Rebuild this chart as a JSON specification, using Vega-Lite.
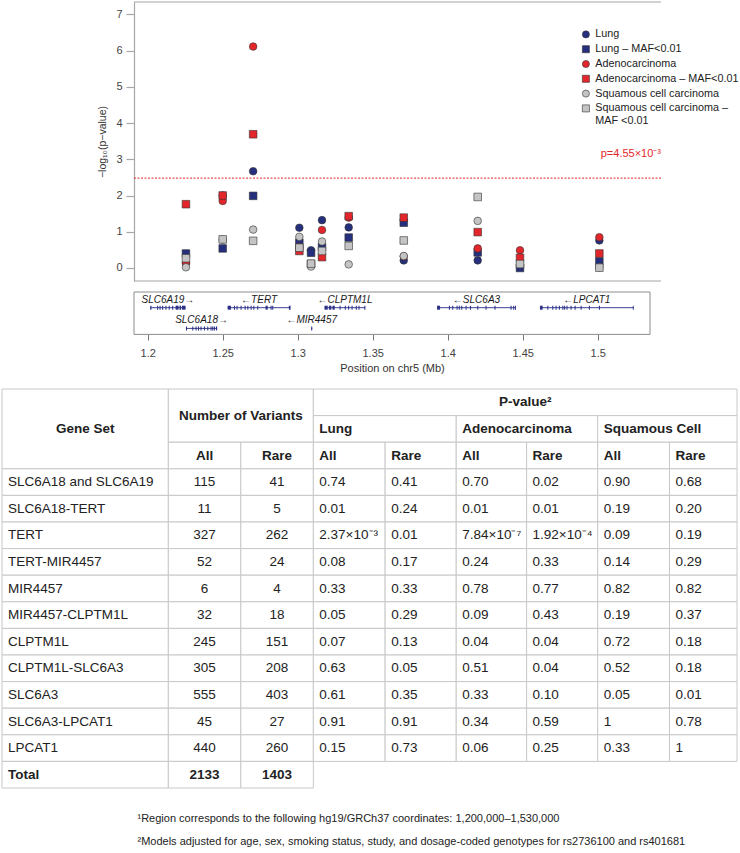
{
  "$schema": "https://vega.github.io/schema/vega-lite/v6.json",
  "padding": {"left": 1, "top": 1, "right": 0, "bottom": 0},
  "background": "white",
  "config": {
    "font": "Liberation Sans",
    "view": {"stroke": null},
    "axis": {"labelFont": "Liberation Sans", "titleFont": "Liberation Sans"},
    "legend": {"labelFont": "Liberation Sans"},
    "title": {"font": "Liberation Sans"},
    "text": {"font": "Liberation Sans"}
  },
  "datasets": {
    "pts": [
      {"set": "SLC6A18 and SLC6A19", "pos": 1.2255, "L": 0.13, "Lr": 0.40, "A": 0.15, "Ar": 1.76, "S": 0.02, "Sr": 0.27},
      {"set": "SLC6A18-TERT", "pos": 1.2500, "L": 2.00, "Lr": 0.54, "A": 1.85, "Ar": 2.00, "S": 0.78, "Sr": 0.79},
      {"set": "TERT", "pos": 1.2703, "L": 2.67, "Lr": 1.99, "A": 6.11, "Ar": 3.69, "S": 1.06, "Sr": 0.75},
      {"set": "TERT-MIR4457", "pos": 1.3011, "L": 1.11, "Lr": 0.70, "A": 0.58, "Ar": 0.47, "S": 0.86, "Sr": 0.56},
      {"set": "MIR4457", "pos": 1.3089, "L": 0.49, "Lr": 0.42, "A": 0.11, "Ar": 0.11, "S": 0.04, "Sr": 0.12},
      {"set": "MIR4457-CLPTM1L", "pos": 1.3162, "L": 1.32, "Lr": 0.58, "A": 1.05, "Ar": 0.30, "S": 0.73, "Sr": 0.47},
      {"set": "CLPTM1L", "pos": 1.3340, "L": 1.12, "Lr": 0.84, "A": 1.39, "Ar": 1.43, "S": 0.10, "Sr": 0.61},
      {"set": "CLPTM1L-SLC6A3", "pos": 1.3707, "L": 0.21, "Lr": 1.25, "A": 0.32, "Ar": 1.39, "S": 0.33, "Sr": 0.76},
      {"set": "SLC6A3", "pos": 1.4200, "L": 0.21, "Lr": 0.43, "A": 0.54, "Ar": 0.99, "S": 1.30, "Sr": 1.96},
      {"set": "SLC6A3-LPCAT1", "pos": 1.4482, "L": 0.04, "Lr": 0.00, "A": 0.49, "Ar": 0.28, "S": 0.10, "Sr": 0.11},
      {"set": "LPCAT1", "pos": 1.5011, "L": 0.76, "Lr": 0.18, "A": 0.85, "Ar": 0.40, "S": 0.02, "Sr": 0.01}
    ],
    "ser": [
      {"key": "L", "series": "Lung"},
      {"key": "Lr", "series": "Lung – MAF<0.01"},
      {"key": "A", "series": "Adenocarcinoma"},
      {"key": "Ar", "series": "Adenocarcinoma – MAF<0.01"},
      {"key": "S", "series": "Squamous cell carcinoma"},
      {"key": "Sr", "series": "Squamous cell carcinoma – MAF <0.01"}
    ],
    "genes": [
      {"gene": "SLC6A19", "label": "SLC6A19→", "start": 1.2017, "end": 1.2252, "lane": 1},
      {"gene": "SLC6A18", "label": "SLC6A18→", "start": 1.2255, "end": 1.2463, "lane": 2},
      {"gene": "TERT", "label": "←TERT", "start": 1.2533, "end": 1.2952, "lane": 1},
      {"gene": "MIR4457", "label": "←MIR4457", "start": 1.3090, "end": 1.3097, "lane": 2},
      {"gene": "CLPTM1L", "label": "←CLPTM1L", "start": 1.3179, "end": 1.3451, "lane": 1},
      {"gene": "SLC6A3", "label": "←SLC6A3", "start": 1.3929, "end": 1.4455, "lane": 1},
      {"gene": "LPCAT1", "label": "←LPCAT1", "start": 1.4615, "end": 1.5240, "lane": 1}
    ],
    "exons": [
      {"lane": 1, "start": 1.2017, "end": 1.2025}, {"lane": 1, "start": 1.2063, "end": 1.2070}, {"lane": 1, "start": 1.2079, "end": 1.2086},
      {"lane": 1, "start": 1.2096, "end": 1.2103}, {"lane": 1, "start": 1.2118, "end": 1.2125}, {"lane": 1, "start": 1.2140, "end": 1.2147},
      {"lane": 1, "start": 1.2163, "end": 1.2170}, {"lane": 1, "start": 1.2186, "end": 1.2206}, {"lane": 1, "start": 1.2212, "end": 1.2222},
      {"lane": 1, "start": 1.2228, "end": 1.2252},
      {"lane": 2, "start": 1.2255, "end": 1.2262}, {"lane": 2, "start": 1.2297, "end": 1.2304}, {"lane": 2, "start": 1.2319, "end": 1.2326},
      {"lane": 2, "start": 1.2335, "end": 1.2342}, {"lane": 2, "start": 1.2352, "end": 1.2359}, {"lane": 2, "start": 1.2375, "end": 1.2382},
      {"lane": 2, "start": 1.2397, "end": 1.2404}, {"lane": 2, "start": 1.2419, "end": 1.2426}, {"lane": 2, "start": 1.2430, "end": 1.2437},
      {"lane": 2, "start": 1.2441, "end": 1.2448}, {"lane": 2, "start": 1.2455, "end": 1.2463},
      {"lane": 1, "start": 1.2533, "end": 1.2555}, {"lane": 1, "start": 1.2575, "end": 1.2582}, {"lane": 1, "start": 1.2592, "end": 1.2599},
      {"lane": 1, "start": 1.2619, "end": 1.2626}, {"lane": 1, "start": 1.2646, "end": 1.2653}, {"lane": 1, "start": 1.2664, "end": 1.2671},
      {"lane": 1, "start": 1.2686, "end": 1.2693}, {"lane": 1, "start": 1.2704, "end": 1.2711}, {"lane": 1, "start": 1.2730, "end": 1.2737},
      {"lane": 1, "start": 1.2786, "end": 1.2800}, {"lane": 1, "start": 1.2819, "end": 1.2826}, {"lane": 1, "start": 1.2830, "end": 1.2837},
      {"lane": 1, "start": 1.2941, "end": 1.2952},
      {"lane": 2, "start": 1.3090, "end": 1.3097},
      {"lane": 1, "start": 1.3179, "end": 1.3200}, {"lane": 1, "start": 1.3208, "end": 1.3224}, {"lane": 1, "start": 1.3232, "end": 1.3247},
      {"lane": 1, "start": 1.3279, "end": 1.3286}, {"lane": 1, "start": 1.3314, "end": 1.3321}, {"lane": 1, "start": 1.3336, "end": 1.3343},
      {"lane": 1, "start": 1.3359, "end": 1.3366}, {"lane": 1, "start": 1.3387, "end": 1.3394}, {"lane": 1, "start": 1.3405, "end": 1.3412},
      {"lane": 1, "start": 1.3444, "end": 1.3451},
      {"lane": 1, "start": 1.3929, "end": 1.3949}, {"lane": 1, "start": 1.4008, "end": 1.4015}, {"lane": 1, "start": 1.4030, "end": 1.4037},
      {"lane": 1, "start": 1.4059, "end": 1.4066}, {"lane": 1, "start": 1.4074, "end": 1.4081}, {"lane": 1, "start": 1.4090, "end": 1.4097},
      {"lane": 1, "start": 1.4119, "end": 1.4126}, {"lane": 1, "start": 1.4148, "end": 1.4155}, {"lane": 1, "start": 1.4197, "end": 1.4204},
      {"lane": 1, "start": 1.4252, "end": 1.4259}, {"lane": 1, "start": 1.4312, "end": 1.4319}, {"lane": 1, "start": 1.4419, "end": 1.4426},
      {"lane": 1, "start": 1.4437, "end": 1.4444}, {"lane": 1, "start": 1.4449, "end": 1.4455},
      {"lane": 1, "start": 1.4615, "end": 1.4633}, {"lane": 1, "start": 1.4664, "end": 1.4671}, {"lane": 1, "start": 1.4697, "end": 1.4704},
      {"lane": 1, "start": 1.4719, "end": 1.4726}, {"lane": 1, "start": 1.4741, "end": 1.4748}, {"lane": 1, "start": 1.4764, "end": 1.4771},
      {"lane": 1, "start": 1.4776, "end": 1.4783}, {"lane": 1, "start": 1.4792, "end": 1.4799}, {"lane": 1, "start": 1.4819, "end": 1.4826},
      {"lane": 1, "start": 1.4846, "end": 1.4853}, {"lane": 1, "start": 1.4886, "end": 1.4893}, {"lane": 1, "start": 1.4941, "end": 1.4948},
      {"lane": 1, "start": 1.5008, "end": 1.5015}, {"lane": 1, "start": 1.5234, "end": 1.5240}
    ],
    "cols": [
      {"key": "set", "c0": 0, "c1": 2.34},
      {"key": "n_all", "c0": 2.34, "c1": 3.36},
      {"key": "n_rare", "c0": 3.36, "c1": 4.38},
      {"key": "l_all", "c0": 4.38, "c1": 5.39},
      {"key": "l_rare", "c0": 5.39, "c1": 6.39},
      {"key": "a_all", "c0": 6.39, "c1": 7.38},
      {"key": "a_rare", "c0": 7.38, "c1": 8.38},
      {"key": "s_all", "c0": 8.38, "c1": 9.39},
      {"key": "s_rare", "c0": 9.39, "c1": 10.34}
    ],
    "head": [
      {"text": "Gene Set", "c0": 0, "c1": 2.34, "r0": 0, "r1": 3},
      {"text": "Number of Variants", "c0": 2.34, "c1": 4.38, "r0": 0, "r1": 2},
      {"text": "All", "c0": 2.34, "c1": 3.36, "r0": 2, "r1": 3},
      {"text": "Rare", "c0": 3.36, "c1": 4.38, "r0": 2, "r1": 3},
      {"text": "P-value²", "c0": 4.38, "c1": 10.34, "r0": 0, "r1": 1},
      {"text": "Lung", "c0": 4.38, "c1": 6.39, "r0": 1, "r1": 2},
      {"text": "Adenocarcinoma", "c0": 6.39, "c1": 8.38, "r0": 1, "r1": 2},
      {"text": "Squamous Cell", "c0": 8.38, "c1": 10.34, "r0": 1, "r1": 2},
      {"text": "All", "c0": 4.38, "c1": 5.39, "r0": 2, "r1": 3},
      {"text": "Rare", "c0": 5.39, "c1": 6.39, "r0": 2, "r1": 3},
      {"text": "All", "c0": 6.39, "c1": 7.38, "r0": 2, "r1": 3},
      {"text": "Rare", "c0": 7.38, "c1": 8.38, "r0": 2, "r1": 3},
      {"text": "All", "c0": 8.38, "c1": 9.39, "r0": 2, "r1": 3},
      {"text": "Rare", "c0": 9.39, "c1": 10.34, "r0": 2, "r1": 3}
    ],
    "tbl": [
      {"set": "SLC6A18 and SLC6A19", "n_all": "115", "n_rare": "41", "l_all": "0.74", "l_rare": "0.41", "a_all": "0.70", "a_rare": "0.02", "s_all": "0.90", "s_rare": "0.68"},
      {"set": "SLC6A18-TERT", "n_all": "11", "n_rare": "5", "l_all": "0.01", "l_rare": "0.24", "a_all": "0.01", "a_rare": "0.01", "s_all": "0.19", "s_rare": "0.20"},
      {"set": "TERT", "n_all": "327", "n_rare": "262", "l_all": "2.37×10⁻³", "l_rare": "0.01", "a_all": "7.84×10⁻⁷", "a_rare": "1.92×10⁻⁴", "s_all": "0.09", "s_rare": "0.19"},
      {"set": "TERT-MIR4457", "n_all": "52", "n_rare": "24", "l_all": "0.08", "l_rare": "0.17", "a_all": "0.24", "a_rare": "0.33", "s_all": "0.14", "s_rare": "0.29"},
      {"set": "MIR4457", "n_all": "6", "n_rare": "4", "l_all": "0.33", "l_rare": "0.33", "a_all": "0.78", "a_rare": "0.77", "s_all": "0.82", "s_rare": "0.82"},
      {"set": "MIR4457-CLPTM1L", "n_all": "32", "n_rare": "18", "l_all": "0.05", "l_rare": "0.29", "a_all": "0.09", "a_rare": "0.43", "s_all": "0.19", "s_rare": "0.37"},
      {"set": "CLPTM1L", "n_all": "245", "n_rare": "151", "l_all": "0.07", "l_rare": "0.13", "a_all": "0.04", "a_rare": "0.04", "s_all": "0.72", "s_rare": "0.18"},
      {"set": "CLPTM1L-SLC6A3", "n_all": "305", "n_rare": "208", "l_all": "0.63", "l_rare": "0.05", "a_all": "0.51", "a_rare": "0.04", "s_all": "0.52", "s_rare": "0.18"},
      {"set": "SLC6A3", "n_all": "555", "n_rare": "403", "l_all": "0.61", "l_rare": "0.35", "a_all": "0.33", "a_rare": "0.10", "s_all": "0.05", "s_rare": "0.01"},
      {"set": "SLC6A3-LPCAT1", "n_all": "45", "n_rare": "27", "l_all": "0.91", "l_rare": "0.91", "a_all": "0.34", "a_rare": "0.59", "s_all": "1", "s_rare": "0.78"},
      {"set": "LPCAT1", "n_all": "440", "n_rare": "260", "l_all": "0.15", "l_rare": "0.73", "a_all": "0.06", "a_rare": "0.25", "s_all": "0.33", "s_rare": "1"},
      {"set": "Total", "n_all": "2133", "n_rare": "1403"}
    ]
  },
  "vconcat": [
    {
      "spacing": 9,
      "vconcat": [
        {
          "width": 735,
          "height": 279,
          "layer": [
            {
              "data": {"values": [{}]},
              "mark": {"type": "rule", "color": "#a6a6a6", "strokeWidth": 1.2},
              "encoding": {
                "x": {"datum": 1.19087, "type": "quantitative", "scale": {"domain": [1.102867, 1.592867], "nice": false, "zero": false}, "axis": null},
                "x2": {"datum": 1.5422},
                "y": {"datum": 7.339, "type": "quantitative", "scale": {"domain": [-0.3587, 7.339], "nice": false, "zero": false},
                  "axis": {"orient": "left", "offset": -132, "values": [0, 1, 2, 3, 4, 5, 6, 7], "grid": false, "title": "−log₁₀(p−value)", "titleFontSize": 10.5, "titleFontWeight": "normal", "titleColor": "#333333", "titlePadding": 8, "domainColor": "#a6a6a6", "domainWidth": 1.2, "tickColor": "#a6a6a6", "tickSize": 8, "tickWidth": 1.2, "labelFontSize": 11, "labelColor": "#444444", "labelPadding": 4}}
              }
            },
            {
              "data": {"values": [{}]},
              "mark": {"type": "rule", "color": "#a6a6a6", "strokeWidth": 1.2},
              "encoding": {
                "x": {"datum": 1.19087, "type": "quantitative", "scale": {"domain": [1.102867, 1.592867], "nice": false, "zero": false}, "axis": null},
                "x2": {"datum": 1.5422},
                "y": {"datum": -0.3587, "type": "quantitative", "scale": {"domain": [-0.3587, 7.339], "nice": false, "zero": false},
                  "axis": {"orient": "left", "offset": -132, "values": [0, 1, 2, 3, 4, 5, 6, 7], "grid": false, "title": "−log₁₀(p−value)", "titleFontSize": 10.5, "titleFontWeight": "normal", "titleColor": "#333333", "titlePadding": 8, "domainColor": "#a6a6a6", "domainWidth": 1.2, "tickColor": "#a6a6a6", "tickSize": 8, "tickWidth": 1.2, "labelFontSize": 11, "labelColor": "#444444", "labelPadding": 4}}
              }
            },
            {
              "data": {"values": [{}]},
              "mark": {"type": "rule", "color": "#e3262b", "strokeWidth": 1, "strokeDash": [2, 1.5]},
              "encoding": {
                "x": {"datum": 1.19087, "type": "quantitative", "scale": {"domain": [1.102867, 1.592867], "nice": false, "zero": false}, "axis": null},
                "x2": {"datum": 1.5422},
                "y": {"datum": 2.48, "type": "quantitative", "scale": {"domain": [-0.3587, 7.339], "nice": false, "zero": false},
                  "axis": {"orient": "left", "offset": -132, "values": [0, 1, 2, 3, 4, 5, 6, 7], "grid": false, "title": "−log₁₀(p−value)", "titleFontSize": 10.5, "titleFontWeight": "normal", "titleColor": "#333333", "titlePadding": 8, "domainColor": "#a6a6a6", "domainWidth": 1.2, "tickColor": "#a6a6a6", "tickSize": 8, "tickWidth": 1.2, "labelFontSize": 11, "labelColor": "#444444", "labelPadding": 4}}
              }
            },
            {
              "data": {"values": [{}]},
              "mark": {"type": "text", "text": "p=4.55×10⁻³", "color": "#e3262b", "fontSize": 11, "align": "right", "baseline": "middle"},
              "encoding": {
                "x": {"datum": 1.5422, "type": "quantitative", "scale": {"domain": [1.102867, 1.592867], "nice": false, "zero": false}, "axis": null},
                "y": {"datum": 3.14, "type": "quantitative", "scale": {"domain": [-0.3587, 7.339], "nice": false, "zero": false},
                  "axis": {"orient": "left", "offset": -132, "values": [0, 1, 2, 3, 4, 5, 6, 7], "grid": false, "title": "−log₁₀(p−value)", "titleFontSize": 10.5, "titleFontWeight": "normal", "titleColor": "#333333", "titlePadding": 8, "domainColor": "#a6a6a6", "domainWidth": 1.2, "tickColor": "#a6a6a6", "tickSize": 8, "tickWidth": 1.2, "labelFontSize": 11, "labelColor": "#444444", "labelPadding": 4}}
              }
            },
            {
              "data": {"name": "pts"},
              "transform": [
                {"fold": ["L", "Lr", "A", "Ar", "S", "Sr"], "as": ["key", "v"]},
                {"lookup": "key", "from": {"data": {"name": "ser"}, "key": "key", "fields": ["series"]}}
              ],
              "mark": {"type": "point", "filled": true, "size": 58, "stroke": "#333333", "strokeWidth": 0.6, "opacity": 1},
              "encoding": {
                "x": {"field": "pos", "type": "quantitative", "scale": {"domain": [1.102867, 1.592867], "nice": false, "zero": false}, "axis": null},
                "y": {
                  "field": "v", "type": "quantitative",
                  "scale": {"domain": [-0.3587, 7.339], "nice": false, "zero": false},
                  "axis": {"orient": "left", "offset": -132, "values": [0, 1, 2, 3, 4, 5, 6, 7], "grid": false, "title": "−log₁₀(p−value)", "titleFontSize": 10.5, "titleFontWeight": "normal", "titleColor": "#333333", "titlePadding": 8, "domainColor": "#a6a6a6", "domainWidth": 1.2, "tickColor": "#a6a6a6", "tickSize": 8, "tickWidth": 1.2, "labelFontSize": 11, "labelColor": "#444444", "labelPadding": 4}
                },
                "color": {
                  "field": "series", "type": "nominal",
                  "scale": {
                    "domain": ["Lung", "Lung – MAF<0.01", "Adenocarcinoma", "Adenocarcinoma – MAF<0.01", "Squamous cell carcinoma", "Squamous cell carcinoma – MAF <0.01"],
                    "range": ["#252f7d", "#252f7d", "#e3262b", "#e3262b", "#c4c4c4", "#c4c4c4"]
                  },
                  "legend": {
                    "title": null, "orient": "none", "legendX": 578.5, "legendY": 27, "padding": 0,
                    "labelFontSize": 10.8, "labelColor": "#222222", "labelLimit": 300, "labelOffset": 4,
                    "symbolSize": 50, "symbolStrokeColor": "#333333", "symbolStrokeWidth": 0.6, "rowPadding": 2.8,
                    "labelExpr": "datum.label == 'Squamous cell carcinoma – MAF <0.01' ? ['Squamous cell carcinoma –', 'MAF <0.01'] : datum.label"
                  }
                },
                "shape": {
                  "field": "series", "type": "nominal",
                  "scale": {
                    "domain": ["Lung", "Lung – MAF<0.01", "Adenocarcinoma", "Adenocarcinoma – MAF<0.01", "Squamous cell carcinoma", "Squamous cell carcinoma – MAF <0.01"],
                    "range": ["circle", "square", "circle", "square", "circle", "square"]
                  }
                }
              }
            }
          ]
        },
        {
          "width": 735,
          "height": 42.4,
          "layer": [
            {
              "data": {"values": [{}]},
              "mark": {"type": "rect", "fill": "transparent", "stroke": "#8c8c8c", "strokeWidth": 1},
              "encoding": {
                "x": {"datum": 1.19087, "type": "quantitative", "scale": {"domain": [1.102867, 1.592867], "nice": false, "zero": false},
                  "axis": {"values": [1.2, 1.25, 1.3, 1.35, 1.4, 1.45, 1.5], "format": "~g", "domain": false, "grid": false, "tickColor": "#777777", "tickSize": 5.6, "tickWidth": 1, "labelFontSize": 11, "labelColor": "#444444", "labelPadding": 7, "title": "Position on chr5 (Mb)", "titleFontSize": 11, "titleFontWeight": "normal", "titleColor": "#333333", "titlePadding": 4, "titleX": 390}},
                "x2": {"datum": 1.53487},
                "y": {"datum": 0.2415, "type": "quantitative", "scale": {"domain": [0.2415, 2.2899], "nice": false, "zero": false, "reverse": true}, "axis": null},
                "y2": {"datum": 2.2899}
              }
            },
            {
              "data": {"name": "genes"},
              "mark": {"type": "rule", "color": "#3a3f94", "strokeWidth": 1},
              "encoding": {
                "x": {"field": "start", "type": "quantitative", "scale": {"domain": [1.102867, 1.592867], "nice": false, "zero": false},
                  "axis": {"values": [1.2, 1.25, 1.3, 1.35, 1.4, 1.45, 1.5], "format": "~g", "domain": false, "grid": false, "tickColor": "#777777", "tickSize": 5.6, "tickWidth": 1, "labelFontSize": 11, "labelColor": "#444444", "labelPadding": 7, "title": "Position on chr5 (Mb)", "titleFontSize": 11, "titleFontWeight": "normal", "titleColor": "#333333", "titlePadding": 4, "titleX": 390}},
                "x2": {"field": "end"},
                "y": {"field": "lane", "type": "quantitative", "scale": {"domain": [0.2415, 2.2899], "nice": false, "zero": false, "reverse": true}, "axis": null}
              }
            },
            {
              "data": {"name": "exons"},
              "mark": {"type": "rule", "color": "#2e3388", "strokeWidth": 4, "strokeCap": "butt"},
              "encoding": {
                "x": {"field": "start", "type": "quantitative", "scale": {"domain": [1.102867, 1.592867], "nice": false, "zero": false},
                  "axis": {"values": [1.2, 1.25, 1.3, 1.35, 1.4, 1.45, 1.5], "format": "~g", "domain": false, "grid": false, "tickColor": "#777777", "tickSize": 5.6, "tickWidth": 1, "labelFontSize": 11, "labelColor": "#444444", "labelPadding": 7, "title": "Position on chr5 (Mb)", "titleFontSize": 11, "titleFontWeight": "normal", "titleColor": "#333333", "titlePadding": 4, "titleX": 390}},
                "x2": {"field": "end"},
                "y": {"field": "lane", "type": "quantitative", "scale": {"domain": [0.2415, 2.2899], "nice": false, "zero": false, "reverse": true}, "axis": null}
              }
            },
            {
              "data": {"name": "genes"},
              "transform": [{"calculate": "(datum.start + datum.end) / 2", "as": "mid"}],
              "mark": {"type": "text", "fontSize": 10, "fontStyle": "italic", "color": "#1a1a1a", "dy": -8, "align": "center", "baseline": "middle"},
              "encoding": {
                "x": {"field": "mid", "type": "quantitative", "scale": {"domain": [1.102867, 1.592867], "nice": false, "zero": false},
                  "axis": {"values": [1.2, 1.25, 1.3, 1.35, 1.4, 1.45, 1.5], "format": "~g", "domain": false, "grid": false, "tickColor": "#777777", "tickSize": 5.6, "tickWidth": 1, "labelFontSize": 11, "labelColor": "#444444", "labelPadding": 7, "title": "Position on chr5 (Mb)", "titleFontSize": 11, "titleFontWeight": "normal", "titleColor": "#333333", "titlePadding": 4, "titleX": 390}},
                "y": {"field": "lane", "type": "quantitative", "scale": {"domain": [0.2415, 2.2899], "nice": false, "zero": false, "reverse": true}, "axis": null},
                "text": {"field": "label"}
              }
            }
          ]
        }
      ]
    },
    {
      "width": 735,
      "height": 399,
      "title": {
        "text": ["¹Region corresponds to the following hg19/GRCh37 coordinates: 1,200,000–1,530,000", "²Models adjusted for age, sex, smoking status, study, and dosage-coded genotypes for rs2736100 and rs401681"],
        "orient": "bottom", "anchor": "start", "align": "left", "dx": 136, "offset": 24,
        "fontSize": 11, "fontWeight": "normal", "color": "#222222", "lineHeight": 23
      },
      "layer": [
        {
          "data": {"name": "head"},
          "transform": [
            {"calculate": "(datum.c0 + datum.c1) / 2", "as": "cx"},
            {"calculate": "(datum.r0 + datum.r1) / 2", "as": "ry"}
          ],
          "layer": [
            {
              "mark": {"type": "rect", "fill": "white", "stroke": "#c8c8c8", "strokeWidth": 1},
              "encoding": {
                "x": {"field": "c0", "type": "quantitative", "scale": {"domain": [0, 10.34], "nice": false, "zero": false}, "axis": null},
                "x2": {"field": "c1"},
                "y": {"field": "r0", "type": "quantitative", "scale": {"domain": [0, 15], "nice": false, "zero": false, "reverse": true}, "axis": null},
                "y2": {"field": "r1"}
              }
            },
            {
              "transform": [{"filter": "datum.c1 <= 4.38 || datum.r1 == 1"}],
              "mark": {"type": "text", "fontSize": 13.5, "fontWeight": "bold", "color": "#222222", "align": "center", "baseline": "middle"},
              "encoding": {
                "x": {"field": "cx", "type": "quantitative", "scale": {"domain": [0, 10.34], "nice": false, "zero": false}, "axis": null},
                "y": {"field": "ry", "type": "quantitative", "scale": {"domain": [0, 15], "nice": false, "zero": false, "reverse": true}, "axis": null},
                "text": {"field": "text"}
              }
            },
            {
              "transform": [{"filter": "!(datum.c1 <= 4.38 || datum.r1 == 1)"}],
              "mark": {"type": "text", "fontSize": 13.5, "fontWeight": "bold", "color": "#222222", "align": "left", "baseline": "middle", "dx": 6},
              "encoding": {
                "x": {"field": "c0", "type": "quantitative", "scale": {"domain": [0, 10.34], "nice": false, "zero": false}, "axis": null},
                "y": {"field": "ry", "type": "quantitative", "scale": {"domain": [0, 15], "nice": false, "zero": false, "reverse": true}, "axis": null},
                "text": {"field": "text"}
              }
            }
          ]
        },
        {
          "data": {"name": "tbl"},
          "transform": [
            {"window": [{"op": "row_number", "as": "row"}]},
            {"fold": ["set", "n_all", "n_rare", "l_all", "l_rare", "a_all", "a_rare", "s_all", "s_rare"], "as": ["key", "val"]},
            {"filter": "isValid(datum.val)"},
            {"lookup": "key", "from": {"data": {"name": "cols"}, "key": "key", "fields": ["c0", "c1"]}},
            {"calculate": "datum.row + 2", "as": "r0"},
            {"calculate": "datum.row + 3", "as": "r1"},
            {"calculate": "datum.row + 2.5", "as": "ry"},
            {"calculate": "(datum.c0 + datum.c1) / 2", "as": "cx"}
          ],
          "layer": [
            {
              "mark": {"type": "rect", "fill": "white", "stroke": "#c8c8c8", "strokeWidth": 1},
              "encoding": {
                "x": {"field": "c0", "type": "quantitative", "scale": {"domain": [0, 10.34], "nice": false, "zero": false}, "axis": null},
                "x2": {"field": "c1"},
                "y": {"field": "r0", "type": "quantitative", "scale": {"domain": [0, 15], "nice": false, "zero": false, "reverse": true}, "axis": null},
                "y2": {"field": "r1"}
              }
            },
            {
              "transform": [{"filter": "datum.key != 'n_all' && datum.key != 'n_rare' && datum.set != 'Total'"}],
              "mark": {"type": "text", "fontSize": 13.5, "color": "#222222", "align": "left", "baseline": "middle", "dx": 6},
              "encoding": {
                "x": {"field": "c0", "type": "quantitative", "scale": {"domain": [0, 10.34], "nice": false, "zero": false}, "axis": null},
                "y": {"field": "ry", "type": "quantitative", "scale": {"domain": [0, 15], "nice": false, "zero": false, "reverse": true}, "axis": null},
                "text": {"field": "val"}
              }
            },
            {
              "transform": [{"filter": "(datum.key == 'n_all' || datum.key == 'n_rare') && datum.set != 'Total'"}],
              "mark": {"type": "text", "fontSize": 13.5, "color": "#222222", "align": "center", "baseline": "middle"},
              "encoding": {
                "x": {"field": "cx", "type": "quantitative", "scale": {"domain": [0, 10.34], "nice": false, "zero": false}, "axis": null},
                "y": {"field": "ry", "type": "quantitative", "scale": {"domain": [0, 15], "nice": false, "zero": false, "reverse": true}, "axis": null},
                "text": {"field": "val"}
              }
            },
            {
              "transform": [{"filter": "datum.key == 'set' && datum.set == 'Total'"}],
              "mark": {"type": "text", "fontSize": 13.5, "fontWeight": "bold", "color": "#222222", "align": "left", "baseline": "middle", "dx": 6},
              "encoding": {
                "x": {"field": "c0", "type": "quantitative", "scale": {"domain": [0, 10.34], "nice": false, "zero": false}, "axis": null},
                "y": {"field": "ry", "type": "quantitative", "scale": {"domain": [0, 15], "nice": false, "zero": false, "reverse": true}, "axis": null},
                "text": {"field": "val"}
              }
            },
            {
              "transform": [{"filter": "(datum.key == 'n_all' || datum.key == 'n_rare') && datum.set == 'Total'"}],
              "mark": {"type": "text", "fontSize": 13.5, "fontWeight": "bold", "color": "#222222", "align": "center", "baseline": "middle"},
              "encoding": {
                "x": {"field": "cx", "type": "quantitative", "scale": {"domain": [0, 10.34], "nice": false, "zero": false}, "axis": null},
                "y": {"field": "ry", "type": "quantitative", "scale": {"domain": [0, 15], "nice": false, "zero": false, "reverse": true}, "axis": null},
                "text": {"field": "val"}
              }
            }
          ]
        }
      ]
    }
  ],
  "spacing": 15
}
